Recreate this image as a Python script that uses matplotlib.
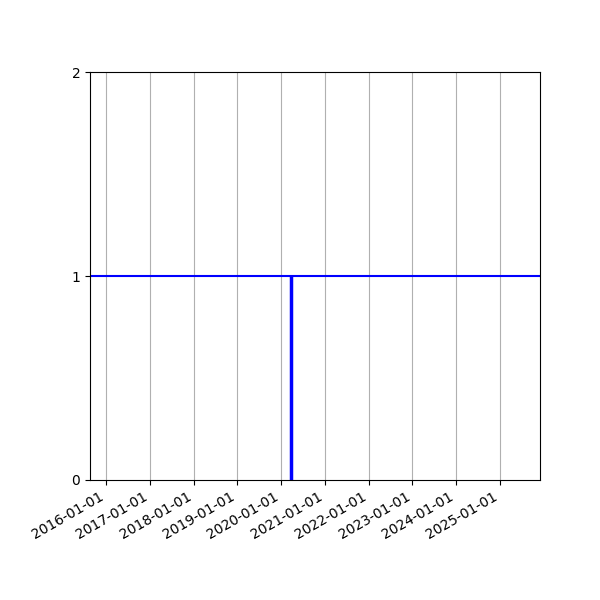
import numpy as np
import pandas as pd
from matplotlib import pyplot as plt
import matplotlib.dates as mdates

# data
level = 1
event_date = pd.Timestamp('2020-03-25')
x_start, x_end = pd.Timestamp('2015-08-20'), pd.Timestamp('2025-12-01')

fig, ax = plt.subplots(figsize=(6, 6), dpi=100)
fig.subplots_adjust(left=0.15, right=0.9, top=0.88, bottom=0.2)

ax.axhline(level, color='b', lw=1.5)
ax.vlines(event_date, 0, level, color='b', lw=2.5)

ax.set_xlim(x_start, x_end)
ax.set_ylim(0, 2)
ax.set_yticks([0, 1, 2])
ax.xaxis.set_major_locator(mdates.YearLocator())
ax.xaxis.set_major_formatter(mdates.DateFormatter('%Y-%m-%d'))
ax.grid(axis='x', color='#b0b0b0')
for lab in ax.get_xticklabels():
    lab.set_rotation(30)
    lab.set_ha('right')

fig.savefig('out.png')
